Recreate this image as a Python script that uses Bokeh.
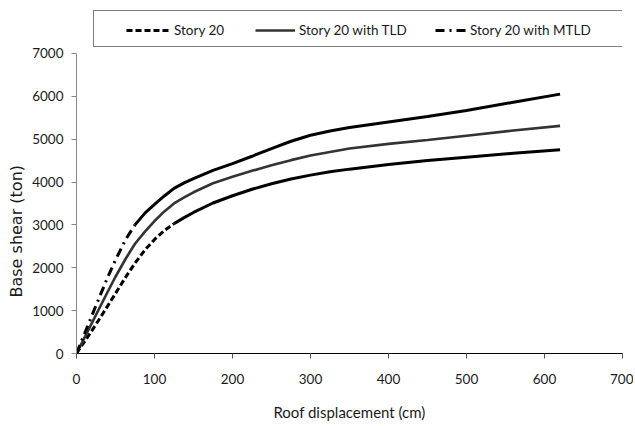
from bokeh.plotting import figure
from bokeh.models import Legend, LegendItem, FixedTicker, Title
from bokeh.embed import file_html
from bokeh.resources import INLINE

# Data
disp = [0, 10, 25, 40, 50, 63, 75, 88, 100, 113, 125, 138, 150, 175, 200, 225, 250, 275, 300, 325, 350, 400, 450, 500, 560, 620]
shear_story20 = [0, 270, 680, 1110, 1400, 1780, 2110, 2420, 2660, 2870, 3030, 3170, 3290, 3510, 3680, 3830, 3960, 4070, 4160, 4240, 4300, 4410, 4500, 4580, 4670, 4750]
shear_tld = [0, 360, 900, 1440, 1790, 2210, 2560, 2850, 3090, 3320, 3500, 3640, 3760, 3970, 4120, 4260, 4390, 4510, 4620, 4700, 4780, 4890, 4980, 5080, 5200, 5310]
shear_mtld = [0, 450, 1120, 1780, 2180, 2660, 3000, 3280, 3480, 3680, 3850, 3980, 4080, 4270, 4430, 4600, 4780, 4950, 5090, 5190, 5270, 5400, 5530, 5670, 5860, 6050]
series_labels = ["Story 20", "Story 20 with TLD", "Story 20 with MTLD"]
x_ticks = [0, 100, 200, 300, 400, 500, 600, 700]
y_ticks = [0, 1000, 2000, 3000, 4000, 5000, 6000, 7000]
x_title = "Roof displacement (cm)"
y_title = "Base shear (ton)"

FONT = "Lato"

# y range extends above 7000 so the legend box (inside the frame) is not clipped;
# the y axis itself is bounded to 0..7000
p = figure(frame_width=546, frame_height=343, x_range=(0, 700), y_range=(0, 8000),
           output_backend="svg", toolbar_location=None,
           min_border_left=0, min_border_right=11, min_border_top=10, min_border_bottom=0)
p.outline_line_color = None
p.xgrid.visible = False
p.ygrid.visible = False
p.background_fill_color = "white"

# where the rendered dash pattern turns solid in the reference
split_s20 = disp.index(125)
split_mtld = disp.index(75)

r_blank = p.line(disp, shear_tld, line_alpha=0)
r_s20 = p.line(disp[:split_s20 + 1], shear_story20[:split_s20 + 1], line_color="black", line_width=3, line_dash="6 3")
p.line(disp[split_s20:], shear_story20[split_s20:], line_color="black", line_width=3)
r_tld = p.line(disp, shear_tld, line_color="#333333", line_width=2.6)
r_mtld = p.line(disp[:split_mtld + 1], shear_mtld[:split_mtld + 1], line_color="black", line_width=3, line_dash="9 5 2 5")
p.line(disp[split_mtld:], shear_mtld[split_mtld:], line_color="black", line_width=3)

# axes
for ax in (p.xaxis[0], p.yaxis[0]):
    ax.major_tick_out = 5
    ax.major_tick_in = 0
    ax.minor_tick_out = 0
    ax.minor_tick_in = 0
    ax.major_label_text_font = FONT
    ax.major_label_text_font_size = "13.5px"
    ax.major_label_text_color = "#1a1a1a"

p.xaxis.ticker = FixedTicker(ticks=x_ticks)
p.yaxis.ticker = FixedTicker(ticks=y_ticks)
p.yaxis.bounds = (0, 7000)
p.xaxis.axis_line_color = "black"
p.xaxis.major_tick_line_color = "#555555"
p.yaxis.axis_line_color = "#888888"
p.yaxis.major_tick_line_color = "#888888"
p.xaxis.major_label_standoff = 15
p.yaxis.major_label_standoff = 8

p.xaxis.axis_label = x_title
p.xaxis.axis_label_text_font = FONT
p.xaxis.axis_label_text_font_size = "15px"
p.xaxis.axis_label_text_font_style = "normal"
p.xaxis.axis_label_text_color = "#1a1a1a"
p.xaxis.axis_label_standoff = 16

p.add_layout(Title(text=y_title, align="left", offset=56, standoff=8,
                   text_font="DejaVu Sans", text_font_size="16px", text_font_style="normal",
                   text_color="#1a1a1a"), "left")

# legend frame (one blank item sized to the reference box)
frame_leg = Legend(items=[LegendItem(label=" ", renderers=[r_blank])], location=(17, 306),
                   glyph_width=520, glyph_height=35, label_height=35, label_width=8, label_standoff=0,
                   padding=0, margin=0, border_line_color="black", border_line_width=1,
                   background_fill_color="white", background_fill_alpha=1,
                   label_text_font_size="10px")
p.add_layout(frame_leg)

legend_specs = [(r_s20, series_labels[0], 50, 44), (r_tld, series_labels[1], 179, 40), (r_mtld, series_labels[2], 359, 31)]
for rend, lab, vx, gw in legend_specs:
    leg = Legend(items=[LegendItem(label=lab, renderers=[rend])], location=(vx, 313),
                 glyph_width=gw, glyph_height=20, label_height=20, label_standoff=4,
                 padding=0, margin=0, border_line_color=None, background_fill_alpha=0,
                 label_text_font=FONT, label_text_font_size="13.5px", label_text_color="#1a1a1a")
    p.add_layout(leg)

open("out.html", "w").write(file_html(p, INLINE))
